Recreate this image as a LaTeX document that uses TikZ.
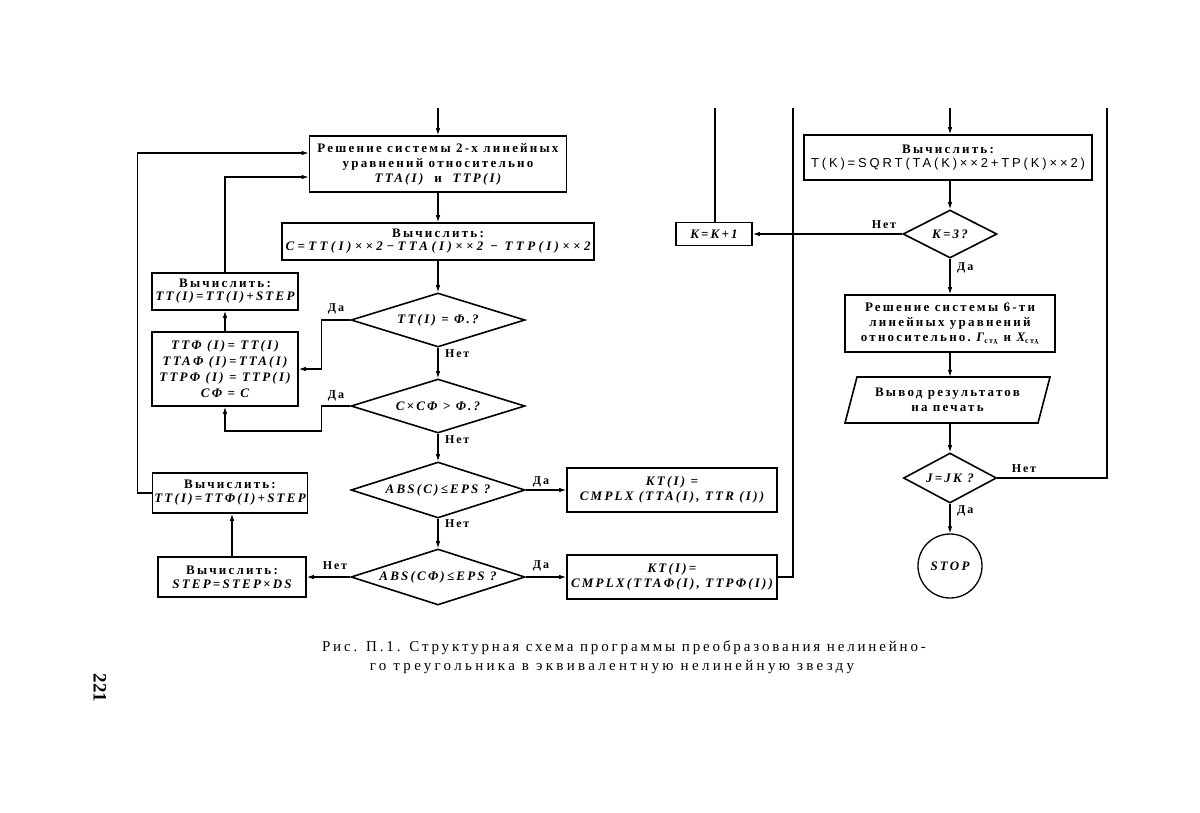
\documentclass[tikz,border=0pt]{standalone}
\usepackage{fontspec}
\setmainfont{Liberation Serif}
\newfontfamily\bxf[LetterSpace=17]{Liberation Serif}
\newfontfamily\capf[LetterSpace=19]{Liberation Serif}
\newfontfamily\capg[LetterSpace=22]{Liberation Serif}
\newfontfamily\upf[LetterSpace=22]{Liberation Sans}
\newfontfamily\ynf[LetterSpace=15]{Liberation Serif}
\usetikzlibrary{shapes.geometric,arrows.meta,calc}
\newcommand\fm[1]{{\itshape #1}}
\newcommand\tri{\rotatebox[origin=c]{180}{\scriptsize Y}}
\tikzset{
  box/.style={draw, line width=1.6pt, rectangle, inner sep=1pt, align=center,
    font=\bxf\bfseries\fontsize{13}{15}\selectfont},
  dia/.style={draw, line width=1.6pt, diamond, inner sep=0pt, align=center,
    font=\bxf\bfseries\itshape\fontsize{13}{15}\selectfont},
  arr/.style={line width=1.1pt, -{Latex[length=7pt,width=4.5pt]}},
  ln/.style={line width=1.1pt},
  yn/.style={inner sep=0pt, font=\ynf\bfseries\fontsize{12}{14}\selectfont},
}
\begin{document}
\begin{tikzpicture}[x=1pt,y=-1pt]
\useasboundingbox (0,0) rectangle (1200,812);
\fill[white] (0,0) rectangle (1200,812);

% ---------- left part ----------
\node[box, minimum width=257pt, minimum height=56pt] (b1) at (438,164)
  {Решение системы 2-х линейных\\уравнений относительно\\\fm{TTA(I)}\ \ и\ \ \fm{TTP(I)}};
\node[box, minimum width=312pt, minimum height=37pt] (b2) at (438,241.5)
  {Вычислить:\\[-2pt]{\addfontfeature{LetterSpace=26}\fm{C=TT(I)××2−TTA(I)××2 − TTP(I)××2}}};
\node[dia, minimum width=174pt, minimum height=54pt] (d1) at (438,320) {\makebox[0pt]{TT(I) = Φ.?}};
\node[dia, minimum width=174pt, minimum height=54pt] (d2) at (438,406) {\makebox[0pt]{C×CΦ > Φ.?}};
\node[dia, minimum width=174pt, minimum height=56pt] (d3) at (438,490) {\makebox[0pt]{ABS(C)≤EPS ?}};
\node[dia, minimum width=174pt, minimum height=56pt] (d4) at (438,577) {\makebox[0pt]{ABS(CΦ)≤EPS ?}};

\node[box, minimum width=210pt, minimum height=44pt] (kt1) at (672,490)
  {\fm{KT(I) =}\\\fm{CMPLX (TTA(I), TTR (I))}};
\node[box, minimum width=210pt, minimum height=44pt] (kt2) at (672,577)
  {\fm{KT(I)=}\\\fm{CMPLX(TTAΦ(I), TTPΦ(I))}};

\node[box, minimum width=146pt, minimum height=37pt] (s1) at (225,291.5)
  {Вычислить:\\[-2pt]\fm{TT(I)=TT(I)+STEP}};
\node[box, minimum width=146pt, minimum height=74pt] (s0) at (225,369)
  {\fm{TTΦ (I)= TT(I)}\\[1pt]\fm{TTAΦ (I)=TTA(I)}\\[1pt]\fm{TTPΦ (I) = TTP(I)}\\[1pt]\fm{CΦ = C}};
\node[box, minimum width=155pt, minimum height=40pt] (s2) at (230,493)
  {Вычислить:\\[-1pt]\fm{TT(I)=TTΦ(I)+STEP}};
\node[box, minimum width=148pt, minimum height=40pt] (s3) at (232,577)
  {Вычислить:\\[-1pt]\fm{STEP=STEP×DS}};

% connectors left part
\coordinate (t1) at (438,108);
\draw[arr] (t1) -- (b1.north);
\draw[arr] (b1.south) -- (b2.north);
\draw[arr] (b2.south) -- (d1.north);
\draw[arr] (d1.south) -- (d2.north);
\draw[arr] (d2.south) -- (d3.north);
\draw[arr] (d3.south) -- (d4.north);
\draw[arr] (d1.west) -- ++(-29,0) |- (s0.east);
\draw[arr] (d2.west) -- ++(-29,0) -- ++(0,25) -| (s0.south);
\draw[arr] (s0.north) -- (s1.south);
\draw[arr] (s1.north) |- ($(b1.west)+(0,13)$);
\draw[arr] (s2.west) -- ++(-14,0) |- ($(b1.west)+(0,-11)$);
\draw[arr] (d3.east) -- (kt1.west);
\draw[arr] (d4.east) -- (kt2.west);
\draw[arr] (d4.west) -- (s3.east);
\draw[arr] (s3.north) -- (s3.north |- s2.south);

\node[yn, anchor=west] (n1) at (445,354) {Нет};
\node[yn, anchor=west] (n2) at (445,440) {Нет};
\node[yn, anchor=west] (n3) at (445,524) {Нет};
\node[yn] (y1) at (336,309) {Да};
\node[yn] (y2) at (336,396) {Да};
\node[yn] (y3) at (541,482) {Да};
\node[yn] (y4) at (541,566) {Да};
\node[yn] (n4) at (335,566) {Нет};

% ---------- right part ----------
\node[box, minimum width=76pt, minimum height=23pt] (kk) at (714,234) {\fm{K=K+1}};
\node[box, minimum width=288pt, minimum height=45pt] (r1) at (948,157.5)
  {Вычислить:\\[-1pt]{\upf\mdseries\fontsize{13}{15}\selectfont T(K)=SQRT(TA(K)××2+TP(K)××2)}};
\node[dia, minimum width=94pt, minimum height=48pt] (d5) at (950,234) {\makebox[0pt]{K=3?}};
\node[box, minimum width=210pt, minimum height=57pt] (r2) at (950,323.5)
  {Решение системы 6-ти\\линейных уравнений\\относительно.\ \fm{Γ}\raisebox{-2pt}{\footnotesize ст\tri}\ и\ \fm{X}\raisebox{-2pt}{\footnotesize ст\tri}};
\node[inner sep=0pt, minimum width=193pt, minimum height=46pt, align=center,
  font=\bxf\bfseries\fontsize{13}{15}\selectfont] (out) at (947.5,400)
  {Вывод результатов\\на печать};
\draw[line width=1.6pt] (857,377) -- (1050,377) -- (1038,423) -- (845,423) -- cycle;
\node[dia, minimum width=93pt, minimum height=50pt] (d6) at (950,478) {\makebox[0pt]{J=JK ?}};
\node[draw, circle, line width=1.3pt, minimum size=64pt, inner sep=0pt,
  font=\bxf\bfseries\itshape\fontsize{13}{15}\selectfont] (stop) at (950,566) {STOP};

\coordinate (t2) at (715,108);
\coordinate (t3) at (793,108);
\coordinate (t4) at (950,108);
\coordinate (t5) at (1107,108);
\draw[ln] (t2) -- (t2 |- kk.north);
\draw[ln] (t3) -- (t3 |- kt2.east) -- (kt2.east);
\draw[arr] (t4) -- (t4 |- r1.north);
\draw[arr] (t4 |- r1.south) -- (d5.north);
\draw[arr] (d5.west) -- (kk.east);
\draw[arr] (d5.south) -- (r2.north);
\draw[arr] (r2.south) -- (r2.south |- out.north);
\draw[arr] (d6.north |- out.south) -- (d6.north);
\draw[arr] (d6.south) -- (stop.north);
\draw[ln] (d6.east) -- (t5 |- d6.east) -- (t5);

\node[yn] (n5) at (884,225) {Нет};
\node[yn, anchor=west] (y5) at (957,268) {Да};
\node[yn] (n6) at (1024,469) {Нет};
\node[yn, anchor=west] (y6) at (957,511) {Да};

% ---------- caption ----------
\node[inner sep=0pt] (cap1) at (624,648) {\capf\fontsize{15}{17}\selectfont Рис. П.1. Структурная схема программы преобразования нелинейно-};
\node[inner sep=0pt] (cap2) at (612,667) {\capg\fontsize{15}{17}\selectfont го треугольника в эквивалентную нелинейную звезду};
\node[inner sep=0pt, rotate=-90] (page) at (100,688) {\fontsize{19}{21}\selectfont\bfseries 221};
\end{tikzpicture}
\end{document}
